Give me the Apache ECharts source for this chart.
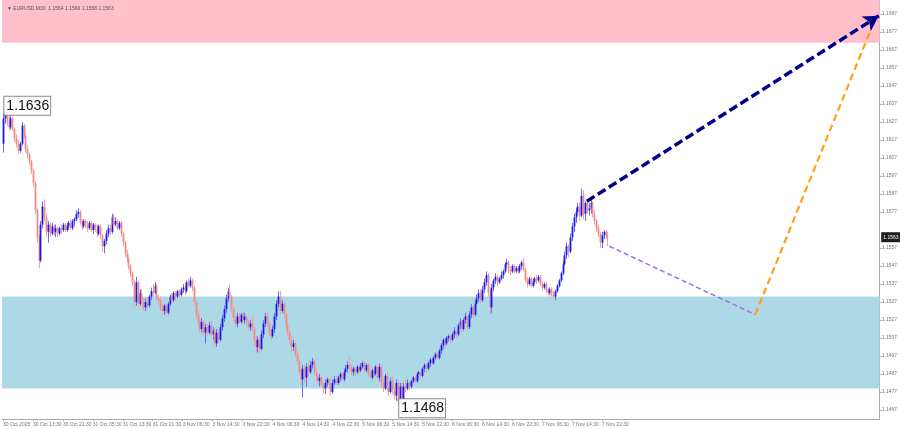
<!DOCTYPE html>
<html>
<head>
<meta charset="utf-8">
<script src="https://cdn.jsdelivr.net/npm/echarts@6/dist/echarts.min.js"></script>
<style>
html,body{margin:0;padding:0;background:#fff;}
#chart{width:900px;height:429px;}
</style>
</head>
<body>
<div id="chart"></div>
<script>
// ---- data (EURUSD, M30), bar index 0 = 30 Oct 05:30 ----
const opens = [
1.1615,1.1629,1.1631,1.1627,1.1624,1.1629,1.1623,1.1618,1.1615,1.1611,1.1615,1.1625,
1.1619,1.1612,1.1609,1.1605,1.1600,1.1593,1.1578,1.1563,1.1550,1.1570,1.1580,1.1574,
1.1566,1.1570,1.1565,1.1569,1.1566,1.1568,1.1565,1.1568,1.1567,1.1570,1.1567,1.1569,
1.1571,1.1568,1.1572,1.1573,1.1576,1.1577,1.1571,1.1569,1.1572,1.1570,1.1568,1.1571,
1.1567,1.1570,1.1568,1.1565,1.1569,1.1564,1.1558,1.1561,1.1565,1.1568,1.1566,1.1574,
1.1570,1.1572,1.1568,1.1571,1.1565,1.1560,1.1554,1.1551,1.1547,1.1543,1.1538,1.1527,
1.1538,1.1526,1.1532,1.1527,1.1524,1.1527,1.1525,1.1530,1.1533,1.1532,1.1536,1.1529,
1.1528,1.1524,1.1522,1.1525,1.1521,1.1526,1.1530,1.1528,1.1532,1.1530,1.1533,1.1531,
1.1534,1.1535,1.1533,1.1538,1.1536,1.1539,1.1535,1.1527,1.1520,1.1516,1.1512,1.1516,
1.1510,1.1513,1.1510,1.1514,1.1509,1.1511,1.1504,1.1510,1.1506,1.1513,1.1518,1.1523,
1.1529,1.1533,1.1530,1.1523,1.1518,1.1515,1.1519,1.1516,1.1520,1.1517,1.1519,1.1516,
1.1513,1.1515,1.1512,1.1506,1.1502,1.1506,1.1501,1.1509,1.1515,1.1519,1.1515,1.1510,
1.1508,1.1512,1.1519,1.1526,1.1530,1.1522,1.1526,1.1520,1.1514,1.1510,1.1506,1.1502,
1.1504,1.1498,1.1494,1.1488,1.1484,1.1490,1.1485,1.1491,1.1488,1.1492,1.1494,1.1488,
1.1486,1.1483,1.1485,1.1481,1.1479,1.1482,1.1484,1.1481,1.1477,1.1482,1.1484,1.1482,
1.1485,1.1487,1.1484,1.1488,1.1490,1.1492,1.1491,1.1488,1.1490,1.1488,1.1491,1.1489,
1.1491,1.1493,1.1489,1.1492,1.1487,1.1485,1.1489,1.1487,1.1491,1.1485,1.1491,1.1482,
1.1479,1.1486,1.1480,1.1477,1.1483,1.1478,1.1475,1.1482,1.1472,1.1480,1.1473,1.1480,
1.1479,1.1482,1.1480,1.1483,1.1485,1.1483,1.1487,1.1488,1.1486,1.1490,1.1492,1.1490,
1.1493,1.1495,1.1493,1.1496,1.1498,1.1496,1.1500,1.1503,1.1506,1.1504,1.1507,1.1508,
1.1506,1.1509,1.1511,1.1509,1.1514,1.1516,1.1512,1.1517,1.1519,1.1513,1.1520,1.1524,
1.1520,1.1526,1.1529,1.1532,1.1528,1.1534,1.1538,1.1542,1.1532,1.1524,1.1535,1.1539,
1.1541,1.1538,1.1540,1.1542,1.1544,1.1548,1.1549,1.1545,1.1544,1.1547,1.1544,1.1546,
1.1544,1.1547,1.1549,1.1545,1.1539,1.1537,1.1540,1.1536,1.1538,1.1540,1.1539,1.1541,
1.1537,1.1535,1.1537,1.1533,1.1532,1.1534,1.1531,1.1530,1.1533,1.1536,1.1539,1.1543,
1.1548,1.1553,1.1558,1.1555,1.1563,1.1569,1.1574,1.1577,1.1580,1.1575,1.1586,1.1576,
1.1582,1.1578,1.1579,1.1582,1.1576,1.1572,1.1568,1.1565,1.1560,1.1564,1.1566,1.1564
];
const highs = [
1.1632,1.1636,1.1633,1.1630,1.1631,1.1630,1.1624,1.1620,1.1617,1.1616,1.1627,1.1626,
1.1620,1.1614,1.1610,1.1606,1.1601,1.1594,1.1579,1.1564,1.1572,1.1583,1.1584,1.1576,
1.1572,1.1571,1.1571,1.1570,1.1570,1.1569,1.1569,1.1570,1.1571,1.1571,1.1571,1.1572,
1.1573,1.1573,1.1574,1.1578,1.1579,1.1578,1.1573,1.1573,1.1573,1.1572,1.1572,1.1572,
1.1571,1.1571,1.1570,1.1570,1.1570,1.1565,1.1562,1.1567,1.1570,1.1570,1.1576,1.1576,
1.1574,1.1573,1.1572,1.1572,1.1566,1.1561,1.1556,1.1552,1.1548,1.1544,1.1539,1.1541,
1.1539,1.1534,1.1534,1.1529,1.1529,1.1530,1.1531,1.1535,1.1537,1.1538,1.1537,1.1531,
1.1530,1.1526,1.1526,1.1526,1.1527,1.1531,1.1532,1.1533,1.1533,1.1534,1.1534,1.1535,
1.1537,1.1536,1.1539,1.1540,1.1541,1.1540,1.1536,1.1528,1.1522,1.1518,1.1518,1.1517,
1.1515,1.1515,1.1516,1.1516,1.1513,1.1512,1.1512,1.1511,1.1515,1.1520,1.1525,1.1531,
1.1535,1.1537,1.1531,1.1525,1.1520,1.1521,1.1521,1.1521,1.1522,1.1521,1.1520,1.1517,
1.1517,1.1519,1.1513,1.1508,1.1508,1.1507,1.1511,1.1517,1.1521,1.1521,1.1516,1.1512,
1.1514,1.1521,1.1528,1.1533,1.1533,1.1528,1.1527,1.1521,1.1516,1.1512,1.1508,1.1506,
1.1505,1.1500,1.1495,1.1490,1.1492,1.1492,1.1493,1.1494,1.1494,1.1496,1.1495,1.1490,
1.1487,1.1487,1.1486,1.1483,1.1484,1.1485,1.1485,1.1482,1.1484,1.1486,1.1486,1.1486,
1.1488,1.1488,1.1489,1.1492,1.1494,1.1497,1.1492,1.1491,1.1491,1.1492,1.1492,1.1493,
1.1494,1.1494,1.1493,1.1493,1.1489,1.1490,1.1491,1.1492,1.1492,1.1493,1.1492,1.1484,
1.1487,1.1488,1.1482,1.1485,1.1486,1.1480,1.1484,1.1483,1.1482,1.1482,1.1482,1.1483,
1.1484,1.1483,1.1484,1.1486,1.1486,1.1488,1.1489,1.1489,1.1491,1.1493,1.1493,1.1494,
1.1496,1.1496,1.1497,1.1499,1.1499,1.1501,1.1504,1.1507,1.1507,1.1508,1.1509,1.1509,
1.1510,1.1513,1.1512,1.1515,1.1518,1.1517,1.1518,1.1521,1.1520,1.1522,1.1526,1.1525,
1.1528,1.1531,1.1534,1.1534,1.1536,1.1540,1.1544,1.1543,1.1534,1.1537,1.1540,1.1543,
1.1542,1.1541,1.1544,1.1545,1.1549,1.1551,1.1550,1.1547,1.1548,1.1548,1.1547,1.1547,
1.1548,1.1550,1.1551,1.1546,1.1541,1.1541,1.1541,1.1540,1.1541,1.1542,1.1542,1.1542,
1.1538,1.1538,1.1538,1.1535,1.1535,1.1535,1.1533,1.1534,1.1537,1.1540,1.1544,1.1550,
1.1555,1.1560,1.1559,1.1565,1.1571,1.1576,1.1579,1.1582,1.1582,1.1590,1.1589,1.1583,
1.1583,1.1582,1.1584,1.1583,1.1578,1.1573,1.1570,1.1566,1.1566,1.1567,1.1567,1.1566
];
const lows = [
1.1610,1.1626,1.1625,1.1622,1.1623,1.1622,1.1616,1.1613,1.1609,1.1610,1.1614,1.1618,
1.1610,1.1607,1.1603,1.1598,1.1591,1.1576,1.1560,1.1546,1.1549,1.1568,1.1572,1.1563,
1.1560,1.1563,1.1564,1.1564,1.1563,1.1563,1.1564,1.1565,1.1566,1.1566,1.1566,1.1567,
1.1567,1.1567,1.1569,1.1572,1.1574,1.1570,1.1567,1.1568,1.1568,1.1566,1.1567,1.1566,
1.1565,1.1566,1.1563,1.1564,1.1562,1.1555,1.1554,1.1559,1.1563,1.1564,1.1565,1.1568,
1.1569,1.1567,1.1567,1.1563,1.1558,1.1552,1.1549,1.1545,1.1541,1.1536,1.1524,1.1525,
1.1524,1.1525,1.1525,1.1522,1.1522,1.1523,1.1524,1.1528,1.1530,1.1531,1.1528,1.1526,
1.1522,1.1520,1.1520,1.1519,1.1520,1.1525,1.1526,1.1527,1.1528,1.1529,1.1529,1.1530,
1.1532,1.1531,1.1532,1.1535,1.1535,1.1533,1.1525,1.1518,1.1514,1.1510,1.1510,1.1508,
1.1504,1.1508,1.1509,1.1508,1.1506,1.1502,1.1502,1.1504,1.1505,1.1511,1.1516,1.1521,
1.1527,1.1528,1.1521,1.1516,1.1513,1.1513,1.1515,1.1515,1.1516,1.1515,1.1514,1.1511,
1.1511,1.1510,1.1503,1.1499,1.1499,1.1498,1.1500,1.1507,1.1513,1.1513,1.1508,1.1506,
1.1507,1.1510,1.1517,1.1524,1.1520,1.1521,1.1518,1.1512,1.1508,1.1504,1.1499,1.1500,
1.1496,1.1492,1.1486,1.1481,1.1474,1.1482,1.1480,1.1486,1.1487,1.1490,1.1486,1.1484,
1.1481,1.1480,1.1480,1.1476,1.1476,1.1480,1.1479,1.1475,1.1476,1.1481,1.1481,1.1481,
1.1483,1.1483,1.1483,1.1486,1.1488,1.1489,1.1486,1.1486,1.1486,1.1487,1.1487,1.1488,
1.1490,1.1488,1.1488,1.1486,1.1484,1.1484,1.1486,1.1486,1.1484,1.1483,1.1480,1.1477,
1.1478,1.1478,1.1475,1.1476,1.1476,1.1473,1.1472,1.1470,1.1468,1.1470,1.1472,1.1477,
1.1478,1.1478,1.1479,1.1482,1.1482,1.1482,1.1485,1.1484,1.1485,1.1488,1.1488,1.1489,
1.1491,1.1492,1.1492,1.1495,1.1495,1.1495,1.1498,1.1501,1.1502,1.1503,1.1505,1.1504,
1.1505,1.1507,1.1507,1.1508,1.1512,1.1510,1.1511,1.1515,1.1511,1.1512,1.1518,1.1518,
1.1519,1.1524,1.1527,1.1526,1.1527,1.1532,1.1536,1.1530,1.1520,1.1521,1.1533,1.1537,
1.1536,1.1537,1.1539,1.1540,1.1543,1.1546,1.1543,1.1542,1.1543,1.1543,1.1543,1.1543,
1.1543,1.1545,1.1544,1.1538,1.1535,1.1536,1.1535,1.1535,1.1537,1.1537,1.1538,1.1536,
1.1533,1.1534,1.1532,1.1530,1.1531,1.1530,1.1529,1.1528,1.1532,1.1535,1.1538,1.1542,
1.1547,1.1551,1.1552,1.1554,1.1561,1.1566,1.1571,1.1575,1.1572,1.1574,1.1573,1.1572,
1.1576,1.1575,1.1576,1.1574,1.1570,1.1566,1.1563,1.1557,1.1557,1.1562,1.1562,1.1558
];
const closes = [
1.1629,1.1631,1.1627,1.1624,1.1629,1.1623,1.1618,1.1615,1.1611,1.1615,1.1625,1.1619,
1.1612,1.1609,1.1605,1.1600,1.1593,1.1578,1.1563,1.1550,1.1570,1.1580,1.1574,1.1566,
1.1570,1.1565,1.1569,1.1566,1.1568,1.1565,1.1568,1.1567,1.1570,1.1567,1.1569,1.1571,
1.1568,1.1572,1.1573,1.1576,1.1577,1.1571,1.1569,1.1572,1.1570,1.1568,1.1571,1.1567,
1.1570,1.1568,1.1565,1.1569,1.1564,1.1558,1.1561,1.1565,1.1568,1.1566,1.1574,1.1570,
1.1572,1.1568,1.1571,1.1565,1.1560,1.1554,1.1551,1.1547,1.1543,1.1538,1.1527,1.1538,
1.1526,1.1532,1.1527,1.1524,1.1527,1.1525,1.1530,1.1533,1.1532,1.1536,1.1529,1.1528,
1.1524,1.1522,1.1525,1.1521,1.1526,1.1530,1.1528,1.1532,1.1530,1.1533,1.1531,1.1534,
1.1535,1.1533,1.1538,1.1536,1.1539,1.1535,1.1527,1.1520,1.1516,1.1512,1.1516,1.1510,
1.1513,1.1510,1.1514,1.1509,1.1511,1.1504,1.1510,1.1506,1.1513,1.1518,1.1523,1.1529,
1.1533,1.1530,1.1523,1.1518,1.1515,1.1519,1.1516,1.1520,1.1517,1.1519,1.1516,1.1513,
1.1515,1.1512,1.1506,1.1502,1.1506,1.1501,1.1509,1.1515,1.1519,1.1515,1.1510,1.1508,
1.1512,1.1519,1.1526,1.1530,1.1522,1.1526,1.1520,1.1514,1.1510,1.1506,1.1502,1.1504,
1.1498,1.1494,1.1488,1.1484,1.1490,1.1485,1.1491,1.1488,1.1492,1.1494,1.1488,1.1486,
1.1483,1.1485,1.1481,1.1479,1.1482,1.1484,1.1481,1.1477,1.1482,1.1484,1.1482,1.1485,
1.1487,1.1484,1.1488,1.1490,1.1492,1.1491,1.1488,1.1490,1.1488,1.1491,1.1489,1.1491,
1.1493,1.1489,1.1492,1.1487,1.1485,1.1489,1.1487,1.1491,1.1485,1.1491,1.1482,1.1479,
1.1486,1.1480,1.1477,1.1483,1.1478,1.1475,1.1482,1.1472,1.1480,1.1473,1.1480,1.1479,
1.1482,1.1480,1.1483,1.1485,1.1483,1.1487,1.1488,1.1486,1.1490,1.1492,1.1490,1.1493,
1.1495,1.1493,1.1496,1.1498,1.1496,1.1500,1.1503,1.1506,1.1504,1.1507,1.1508,1.1506,
1.1509,1.1511,1.1509,1.1514,1.1516,1.1512,1.1517,1.1519,1.1513,1.1520,1.1524,1.1520,
1.1526,1.1529,1.1532,1.1528,1.1534,1.1538,1.1542,1.1532,1.1524,1.1535,1.1539,1.1541,
1.1538,1.1540,1.1542,1.1544,1.1548,1.1549,1.1545,1.1544,1.1547,1.1544,1.1546,1.1544,
1.1547,1.1549,1.1545,1.1539,1.1537,1.1540,1.1536,1.1538,1.1540,1.1539,1.1541,1.1537,
1.1535,1.1537,1.1533,1.1532,1.1534,1.1531,1.1530,1.1533,1.1536,1.1539,1.1543,1.1548,
1.1553,1.1558,1.1555,1.1563,1.1569,1.1574,1.1577,1.1580,1.1575,1.1586,1.1576,1.1582,
1.1578,1.1579,1.1582,1.1576,1.1572,1.1568,1.1565,1.1560,1.1564,1.1566,1.1564,1.1563
];
// x axis: one slot per M30 bar (incl. empty future slots), a time label every 16 bars
const slotCount = 469;
const xTickLabels = ['30 Oct 2025','30 Oct 13:30','30 Oct 21:30','31 Oct 05:30','31 Oct 13:30','31 Oct 21:30',
  '3 Nov 06:30','3 Nov 14:30','3 Nov 22:30','4 Nov 06:30','4 Nov 14:30','4 Nov 22:30',
  '5 Nov 06:30','5 Nov 14:30','5 Nov 22:30','6 Nov 06:30','6 Nov 14:30','6 Nov 22:30',
  '7 Nov 06:30','7 Nov 14:30','7 Nov 22:30'];
const yTickLabels = [1.1687,1.1677,1.1667,1.1657,1.1647,1.1637,1.1627,1.1617,1.1607,1.1597,1.1587,1.1577,
  1.1557,1.1547,1.1537,1.1527,1.1517,1.1507,1.1497,1.1487,1.1477,1.1467];
// zones (price ranges)
const resistanceZone = [1.1671, 1.1700];
const supportZone = [1.1479, 1.1530];
// annotated extremes [bar index, price]
const extremes = [[1, 1.1636], [212, 1.1468]];
// forecast paths [bar index, price]
const mainForecast = [[312, 1.1583], [468, 1.1686]];
const pullbackPath = [[324, 1.1558], [402, 1.1520]];
const altForecast = [[402, 1.1520], [464, 1.1679]];
const lastPrice = 1.1563;

const categories = Array.from({length: slotCount}, (_, i) => String(i));
const candleData = opens.map((o, i) => [i, o, closes[i], lows[i], highs[i]]);
const last = opens.length - 1;
const headText = '\u25BC EURUSD,M30  ' + [opens[last], highs[last], lows[last], closes[last]].map(v => v.toFixed(4)).join(' ');

const chart = echarts.init(document.getElementById('chart'), null, {renderer: 'canvas'});
const fontFam = 'Liberation Sans, Arial, sans-serif';
const COLORS = {bullBody: '#1717ee', bullWick: '#6a6af0', bearBody: '#f08888', bearWick: '#f3a0a0'};

function renderCandle(params, api) {
  const idx = api.value(0);
  const o = api.value(1), c = api.value(2), l = api.value(3), h = api.value(4);
  const pO = api.coord([idx, o]), pC = api.coord([idx, c]);
  const pL = api.coord([idx, l]), pH = api.coord([idx, h]);
  const bull = c >= o;
  const x = Math.round(pO[0]) + 0.5;
  const top = Math.min(pO[1], pC[1]);
  const hgt = Math.max(1, Math.abs(pO[1] - pC[1]));
  return {
    type: 'group',
    children: [
      {type: 'line', shape: {x1: x, y1: pH[1], x2: x, y2: pL[1]},
       style: {stroke: bull ? COLORS.bullWick : COLORS.bearWick, lineWidth: 1}},
      {type: 'rect', shape: {x: x - 0.9, y: top, width: 1.8, height: hgt},
       style: {fill: bull ? COLORS.bullBody : COLORS.bearBody}}
    ]
  };
}
function seg(p, color, width, dash, arrow, size) {
  return [
    {coord: [String(p[0][0]), p[0][1]], symbol: 'none', lineStyle: {color: color, width: width, type: dash}},
    {coord: [String(p[1][0]), p[1][1]], symbol: arrow ? 'arrow' : 'none', symbolSize: size || [12, 14],
     itemStyle: {color: color}}
  ];
}
const option = {
  animation: false,
  backgroundColor: '#fff',
  title: {text: headText, left: 2, top: 1, textStyle: {fontSize: 5, color: '#555', fontWeight: 'normal', fontFamily: fontFam}},
  grid: {left: 0, right: 18.6, top: 0, bottom: 10},
  xAxis: [{
    type: 'category', data: categories, boundaryGap: true,
    axisLine: {show: true, onZero: false, lineStyle: {color: '#aaa', width: 1}},
    axisTick: {show: true, length: 2, alignWithLabel: true, interval: (i) => i % 16 === 0 && i <= 320, lineStyle: {color: '#aaa'}},
    axisLabel: {show: true, interval: (i) => i % 16 === 0 && i <= 320, align: 'left', margin: 3,
      fontSize: 5, color: '#777', fontFamily: fontFam,
      formatter: (v, i) => xTickLabels[i / 16] || ''},
    splitLine: {show: false}
  }, {
    // helper axis spanning the full plot width, used for full-width zones and the price tag
    type: 'value', min: 0, max: 1, show: false,
    axisLine: {show: false, onZero: false}, axisTick: {show: false}, axisLabel: {show: false}, splitLine: {show: false}
  }],
  yAxis: {
    type: 'value', position: 'right', min: 1.1462, max: 1.16948, scale: true,
    axisLine: {show: true, onZero: false, lineStyle: {color: '#aaa', width: 1}},
    axisTick: {show: true, length: 2, customValues: yTickLabels, lineStyle: {color: '#aaa'}},
    axisLabel: {show: true, customValues: yTickLabels, margin: 2, fontSize: 5, color: '#777', fontFamily: fontFam,
      formatter: (v) => Number(v).toFixed(4)},
    splitLine: {show: false}
  },
  series: [
    {
      type: 'line', xAxisIndex: 1, data: [], z: 1, silent: true,
      markArea: {
        silent: true,
        data: [
          [{coord: [0, resistanceZone[0]], itemStyle: {color: '#ffc0cc'}}, {coord: [1, resistanceZone[1]]}],
          [{coord: [0, supportZone[0]], itemStyle: {color: '#add8e6'}}, {coord: [1, supportZone[1]]}]
        ]
      }
    },
    {
      type: 'custom', data: candleData, z: 3, clip: true, silent: true,
      encode: {x: 0, y: [1, 2, 3, 4]},
      renderItem: renderCandle,
      markPoint: {
        symbol: 'rect', symbolSize: 1, itemStyle: {color: 'rgba(0,0,0,0)'},
        label: {show: true, position: 'right', distance: 1, offset: [-2, 0], fontSize: 14, lineHeight: 15, color: '#111', fontFamily: fontFam,
          backgroundColor: '#fff', borderColor: '#888', borderWidth: 1, padding: [2, 1, 1, 2],
          formatter: (p) => p.value.toFixed(4)},
        data: extremes.map(e => ({coord: [String(e[0]), e[1]], value: e[1]}))
      }
    },
    {
      type: 'line', xAxisIndex: 1, data: [], z: 6, silent: true, clip: false,
      markPoint: {
        symbol: 'rect', symbolSize: 1, itemStyle: {color: 'rgba(0,0,0,0)'},
        label: {show: true, position: 'right', distance: 1, fontSize: 5, lineHeight: 6, color: '#fff',
          backgroundColor: '#1e1e1e', padding: [2, 2, 2, 2], fontFamily: fontFam,
          formatter: (p) => p.value.toFixed(4)},
        data: [{coord: [1, lastPrice], value: lastPrice}]
      }
    },
    {
      type: 'line', data: [], z: 4, silent: true,
      markLine: {
        silent: true, label: {show: false}, symbol: 'none',
        data: [
          seg(pullbackPath, '#a070e0', 1.5, [5, 3], false),
          seg(altForecast, '#ff9f1a', 2.2, [7, 4], false)
        ]
      }
    },
    {
      type: 'line', data: [], z: 5, silent: true,
      markLine: {
        silent: true, label: {show: false},
        symbol: ['none', 'arrow'], symbolSize: [13, 15],
        data: [seg(mainForecast, '#00008b', 3.5, [9, 4], true, [13, 15])]
      }
    }
  ]
};
chart.setOption(option);
</script>
</body>
</html>
